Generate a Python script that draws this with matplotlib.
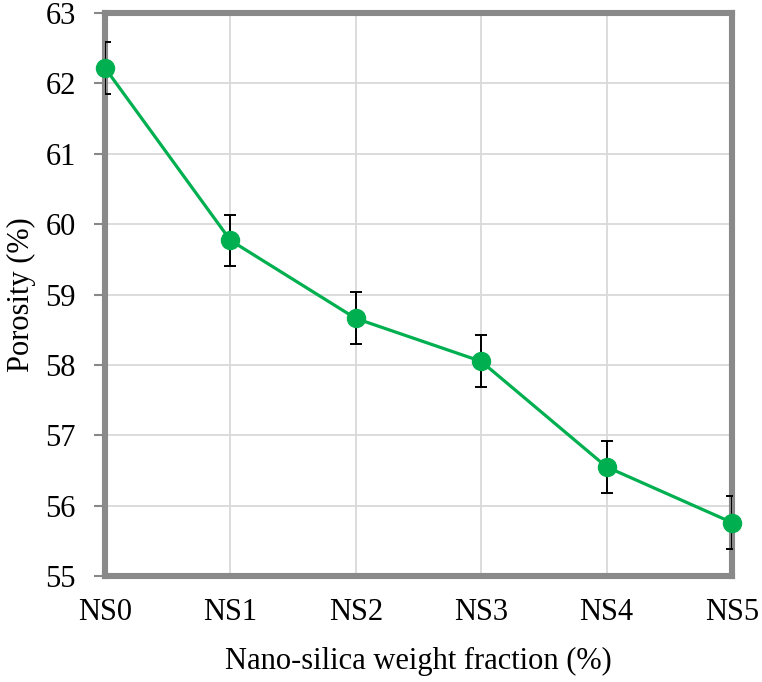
import numpy as np
import matplotlib
matplotlib.use('Agg')
import matplotlib.pyplot as plt

plt.rcParams['font.family'] = ['Liberation Serif', 'DejaVu Serif']

labels = ['NS0', 'NS1', 'NS2', 'NS3', 'NS4', 'NS5']
porosity = [62.22, 59.77, 58.66, 58.05, 56.55, 55.76]
err = [0.37, 0.36, 0.37, 0.37, 0.37, 0.37]

fig = plt.figure(figsize=(7.62, 6.82), dpi=100)
ax = fig.add_axes([0.1378, 0.1554, 0.8228, 0.8255])
x = np.arange(len(labels))

ax.errorbar(x, porosity, yerr=err, fmt='none', ecolor='black', elinewidth=1.4,
            capsize=4.5, capthick=1.4, zorder=3)
ax.plot(x, porosity, color='#00B050', linewidth=2.3, zorder=4)
ax.plot(x, porosity, 'o', color='#00B050', markersize=13, zorder=5, clip_on=False)

ax.set_xlim(0, 5)
ax.set_ylim(55, 63)
ax.set_xticks(x)
ax.set_xticklabels(labels, fontsize=22)
ax.set_yticks(np.arange(55, 64, 1))
ax.tick_params(axis='y', labelsize=22, length=8, width=1.5, color='#888888', direction='out', pad=13)
ax.tick_params(axis='x', length=0, pad=16)
ax.grid(True, color='#d9d9d9', linewidth=1.3)
ax.set_axisbelow(True)
for s in ax.spines.values():
    s.set_color('#898989')
    s.set_linewidth(4.4)

ax.set_xlabel('Nano-silica weight fraction (%)', fontsize=22, labelpad=14)
ax.set_ylabel('Porosity (%)', fontsize=22, labelpad=7)

fig.savefig('out.png', dpi=100)
